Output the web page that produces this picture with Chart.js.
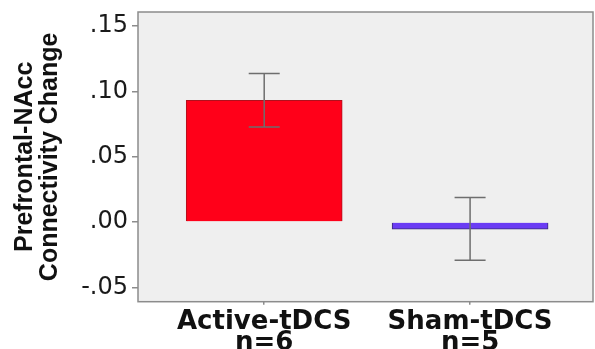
<!DOCTYPE html>
<html>
<head>
<meta charset="utf-8">
<script src="https://cdn.jsdelivr.net/npm/chart.js@4.4.1/dist/chart.umd.min.js"></script>
<style>
  html, body { margin: 0; padding: 0; background: #ffffff; }
  #wrap { width: 595px; height: 349px; position: relative; }
</style>
</head>
<body>
<div id="wrap"><canvas id="c" width="595" height="349"></canvas></div>
<script>
// ---- data ----
const categories = ['Active-tDCS', 'Sham-tDCS'];
const sampleSizes = ['n=6', 'n=5'];
const meanValues = [0.0931, -0.0055];
const errorHigh = [0.1136, 0.0187];
const errorLow = [0.0726, -0.0293];
const yTickValues = [-0.05, 0.00, 0.05, 0.10, 0.15];
const yTickLabels = ['-.05', '.00', '.05', '.10', '.15'];
const yAxisTitle = ['Prefrontal-NAcc', 'Connectivity Change'];

const barColors = ['#ff0019', '#6a3cf4'];
const barBorders = ['#b0101c', '#3a2a7a'];

const plotBackground = {
  id: 'plotBackground',
  beforeDraw(chart) {
    const { ctx, chartArea: a } = chart;
    ctx.save();
    ctx.fillStyle = '#efefef';
    ctx.fillRect(a.left, a.top, a.right - a.left, a.bottom - a.top);
    ctx.restore();
  },
  afterDraw(chart) {
    const { ctx, chartArea: a } = chart;
    ctx.save();
    ctx.strokeStyle = '#8c8c8c';
    ctx.lineWidth = 1.5;
    ctx.strokeRect(a.left, a.top, a.right - a.left, a.bottom - a.top);
    ctx.restore();
  }
};

const errorBars = {
  id: 'errorBars',
  afterDatasetsDraw(chart) {
    const { ctx } = chart;
    const xs = chart.scales.x, ys = chart.scales.y;
    ctx.save();
    ctx.strokeStyle = '#6e6e6e';
    ctx.lineWidth = 1.5;
    categories.forEach((c, i) => {
      const x = xs.getPixelForValue(i);
      const yT = ys.getPixelForValue(errorHigh[i]);
      const yB = ys.getPixelForValue(errorLow[i]);
      const half = 15.5;
      ctx.beginPath();
      ctx.moveTo(x, yT); ctx.lineTo(x, yB);
      ctx.moveTo(x - half, yT); ctx.lineTo(x + half, yT);
      ctx.moveTo(x - half, yB); ctx.lineTo(x + half, yB);
      ctx.stroke();
    });
    ctx.restore();
  }
};

new Chart(document.getElementById('c'), {
  type: 'bar',
  data: {
    datasets: [{
      data: categories.map((c, i) => ({ x: i, y: meanValues[i] })),
      backgroundColor: barColors,
      borderColor: barBorders,
      borderWidth: 1,
      barThickness: 156
    }]
  },
  options: {
    responsive: false,
    animation: false,
    devicePixelRatio: 1,
    layout: { padding: { top: 12, right: 2, left: 0, bottom: 0 } },
    plugins: { legend: { display: false }, tooltip: { enabled: false } },
    scales: {
      x: {
        type: 'linear',
        offset: false,
        min: -0.613,
        max: 1.597,
        afterBuildTicks(scale) { scale.ticks = categories.map((c, i) => ({ value: i })); },
        afterFit(scale) { scale.height = 47.3; scale.paddingLeft = 0; scale.paddingRight = 0; },
        border: { display: false },
        grid: { offset: false, drawOnChartArea: false, drawTicks: true, tickLength: 3, color: '#8c8c8c', lineWidth: 1.5 },
        ticks: {
          autoSkip: false,
          maxRotation: 0,
          padding: 7,
          color: '#111111',
          font: { family: 'DejaVu Sans', weight: 'bold', size: 26, lineHeight: 0.8 },
          callback: (v) => [categories[v], sampleSizes[v]]
        }
      },
      y: {
        min: -0.061,
        max: 0.1607,
        afterBuildTicks(scale) { scale.ticks = yTickValues.map(v => ({ value: v })); },
        afterFit(scale) { scale.width = 138; scale.paddingTop = 0; scale.paddingBottom = 0; },
        border: { display: false },
        grid: { drawOnChartArea: false, drawTicks: true, tickLength: 6, color: '#8c8c8c', lineWidth: 1.5 },
        ticks: {
          padding: 4,
          color: '#1a1a1a',
          font: { family: 'DejaVu Sans', size: 24 },
          callback: (v) => { const k = yTickValues.findIndex(t => Math.abs(t - v) < 1e-9); return k >= 0 ? yTickLabels[k] : ''; }
        },
        title: {
          display: true,
          text: yAxisTitle,
          color: '#111111',
          padding: { top: 13, bottom: 0 },
          font: { family: 'Liberation Sans', weight: 'bold', size: 25, lineHeight: 1.0 }
        }
      }
    }
  },
  plugins: [plotBackground, errorBars]
});
</script>
</body>
</html>
